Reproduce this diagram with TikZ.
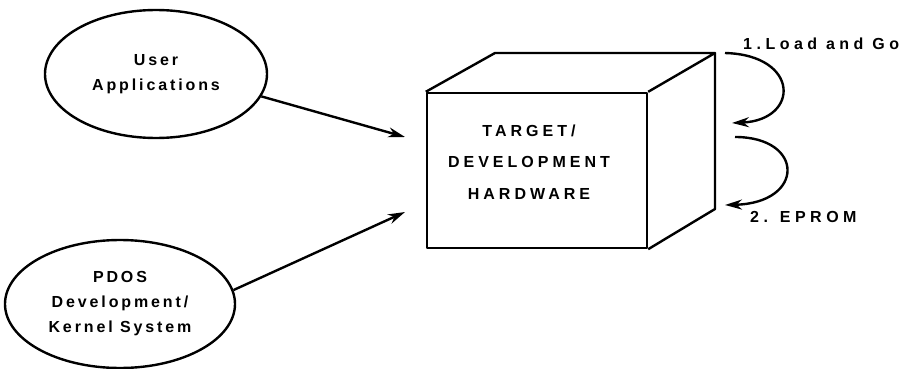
\documentclass[tikz,border=0pt]{standalone}
\usepackage{fontspec}
\setmainfont{Liberation Sans}
\newfontfamily\ellfont{Liberation Sans}[LetterSpace=18]
\newfontfamily\boxfont{Liberation Sans}[LetterSpace=25]
\newfontfamily\tagfont{Liberation Sans}[LetterSpace=28]
\usetikzlibrary{arrows.meta,shapes.geometric}

\begin{document}
\begin{tikzpicture}[x=1pt,y=-1pt,
  ink/.style={line width=2.4pt, line join=round},
  source/.style={ellipse, draw, ink, minimum width=222pt, minimum height=128pt,
    inner sep=0pt, align=center, font=\ellfont\bfseries\fontsize{16}{25}\selectfont},
  feed/.style={ink, -{Stealth[length=17pt,width=10pt]}},
  face/.style={draw, ink, minimum width=220pt, minimum height=155pt, inner sep=0pt},
  boxtext/.style={align=center, font=\boxfont\bfseries\fontsize{16}{31.5}\selectfont},
  tag/.style={anchor=base west, inner sep=0pt, font=\tagfont\bfseries\fontsize{16}{18}\selectfont}]
\useasboundingbox (0,0) rectangle (906,369);

% input sources
\node[source] (user) at (156,74) {User\\Applications};
\node[source, minimum width=230pt] (pdos) at (120,304) {PDOS\\Development/\\Kernel System};

% hardware cube: front face plus receding edges
\node[face] (front) at (537,170.5) {};
\coordinate (btl) at (495,53);
\coordinate (btr) at (715,53);
\coordinate (bbr) at (715,209);
\draw[ink] (front.north west) -- (btl) -- (btr) -- (front.north east);
\draw[ink] (btr) -- (bbr) -- (front.south east);
\node[boxtext] (hwlabel) at (529,162) {TARGET/\\DEVELOPMENT\\HARDWARE};

% feeds into the hardware
\coordinate (tipA) at (405,137);
\coordinate (tipB) at (405,212);
\draw[feed] (user.-12) -- (tipA);
\draw[feed] (pdos.7) -- (tipB);

% loading paths on the right
\coordinate (la0) at (725,53);
\coordinate (la1) at (732,123);
\coordinate (lb0) at (735,137);
\coordinate (lb1) at (725,205);
\draw[feed] (la0) .. controls (800,55) and (800,120) .. (la1);
\draw[feed] (lb0) .. controls (805,137) and (805,203) .. (lb1);
\node[tag] (go) at (743,50) {1.Load and Go};
\node[tag] (eprom) at (750,222) {2. EPROM};
\end{tikzpicture}
\end{document}
